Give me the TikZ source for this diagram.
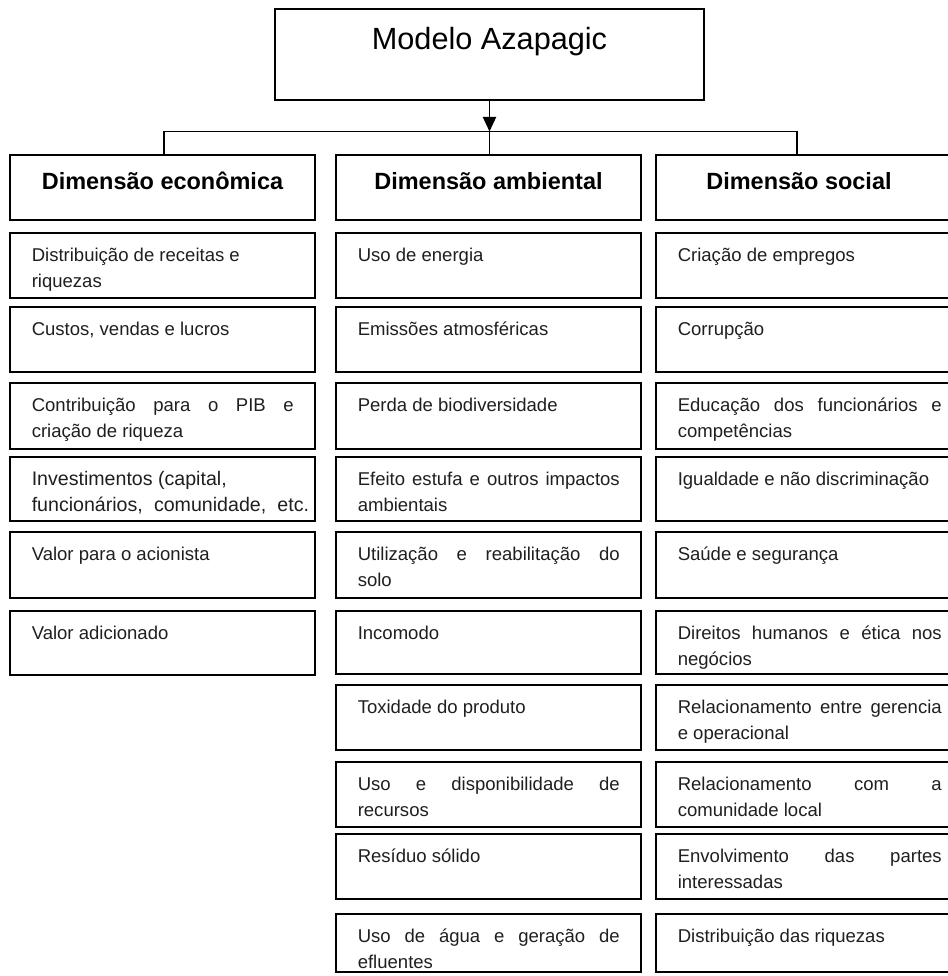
\documentclass[tikz,border=0pt]{standalone}
\usepackage{fontspec}
\setmainfont{Liberation Sans}
\usetikzlibrary{arrows.meta}

% one drawing unit = one pixel of the 948 x 976 sheet, y grows downwards
\tikzset{
  x=0.75pt, y=-0.75pt,
  boxline/.style={draw=black, line width=1.2pt, fill=white},
  titlebox/.style={boxline, minimum width=321.75pt, minimum height=68.25pt, inner sep=0pt},
  headbox/.style={boxline, minimum width=228.75pt, minimum height=48.75pt, inner sep=0pt},
  cellbox/.style={boxline, minimum width=228.75pt, inner sep=0pt},
  titletext/.style={anchor=base, inner sep=0pt, font=\fontsize{23pt}{27pt}\selectfont},
  headtext/.style={anchor=base, inner sep=0pt, font=\fontsize{17.6pt}{21pt}\selectfont\bfseries},
  celltext/.style={anchor=north west, inner sep=0pt, align=left,
    font=\fontsize{13.9pt}{19.9pt}\selectfont, text=black!88},
  conn/.style={draw=black, line width=1pt},
}

% #1 name, #2 left edge, #3 top edge, #4 height, #5 text
\newcommand\mkcell[5]{%
  \node[cellbox, minimum height=#4*0.75pt] (#1) at (#2+152.5, #3+#4/2) {};
  \node[celltext] (#1-t) at (#2+21.5, #3+9.45) {\strut #5};
}
\newcommand\jl[1]{\makebox[196.5pt][s]{#1}}
\newcommand\jr[1]{\makebox[198pt][s]{#1}}
\newcommand\bigger{\fontsize{14.7pt}{19.9pt}\selectfont}

\begin{document}
\begin{tikzpicture}
\clip (0,0) rectangle (948,976);
\fill[white] (0,0) rectangle (948,976);

% top of the hierarchy
\node[titlebox] (title) at (489.5,54.5) {};
\node[titletext] (title-t) at (489.5,49.5) {Modelo Azapagic};

% the three dimensions
\node[headbox] (h1) at (162.5,187.5) {};
\node[headbox] (h2) at (488.5,187.5) {};
\node[headbox] (h3) at (808.5,187.5) {};
\node[headtext] (h1-t) at (162.5,189.5) {Dimensão econômica};
\node[headtext] (h2-t) at (488.5,189.5) {Dimensão ambiental};
\node[headtext] (h3-t) at (799,189.5) {Dimensão social};

% branching connectors
\coordinate (jm) at (489.5,131.5);
\coordinate (j1) at (164,131.5);
\coordinate (j3) at (797,131.5);
\draw[conn, -{Triangle[width=10pt,length=11pt]}] (title.south) -- (jm);
\draw[conn] (j1 |- h1.north) -- (j1) -- (j3) -- (j3 |- h3.north);
\draw[conn] (jm) -- (jm |- h2.north);

% economic indicators
\mkcell{e1}{10}{233}{65}{Distribuição de receitas e\\riquezas}
\mkcell{e2}{10}{307}{65}{Custos, vendas e lucros}
\mkcell{e3}{10}{383}{66}{\jl{Contribuição para o PIB e}\\criação de riqueza}
\mkcell{e4}{10}{457}{64}{\bigger Investimentos (capital,\\\bigger\makebox[208pt][s]{funcionários, comunidade, etc.}}
\mkcell{e5}{10}{532}{66}{Valor para o acionista}
\mkcell{e6}{10}{611}{64}{Valor adicionado}

% environmental indicators
\mkcell{a1}{336}{233}{65}{Uso de energia}
\mkcell{a2}{336}{307}{65}{Emissões atmosféricas}
\mkcell{a3}{336}{383}{66}{Perda de biodiversidade}
\mkcell{a4}{336}{457}{64}{\jl{Efeito estufa e outros impactos}\\ambientais}
\mkcell{a5}{336}{532}{66}{\jl{Utilização e reabilitação do}\\solo}
\mkcell{a6}{336}{611}{63}{Incomodo}
\mkcell{a7}{336}{685}{65}{Toxidade do produto}
\mkcell{a8}{336}{762}{65}{\jl{Uso e disponibilidade de}\\recursos}
\mkcell{a9}{336}{834}{65}{Resíduo sólido}
\mkcell{a10}{336}{914}{58}{\jl{Uso de água e geração de}\\efluentes}

% social indicators
\mkcell{s1}{656}{233}{65}{Criação de empregos}
\mkcell{s2}{656}{307}{65}{Corrupção}
\mkcell{s3}{656}{383}{66}{\jr{Educação dos funcionários e}\\competências}
\mkcell{s4}{656}{457}{64}{Igualdade e não discriminação}
\mkcell{s5}{656}{532}{66}{Saúde e segurança}
\mkcell{s6}{656}{611}{63}{\jr{Direitos humanos e ética nos}\\negócios}
\mkcell{s7}{656}{685}{65}{\jr{Relacionamento entre gerencia}\\e operacional}
\mkcell{s8}{656}{762}{65}{\jr{Relacionamento com a}\\comunidade local}
\mkcell{s9}{656}{834}{65}{\jr{Envolvimento das partes}\\interessadas}
\mkcell{s10}{656}{914}{58}{Distribuição das riquezas}
\end{tikzpicture}
\end{document}
